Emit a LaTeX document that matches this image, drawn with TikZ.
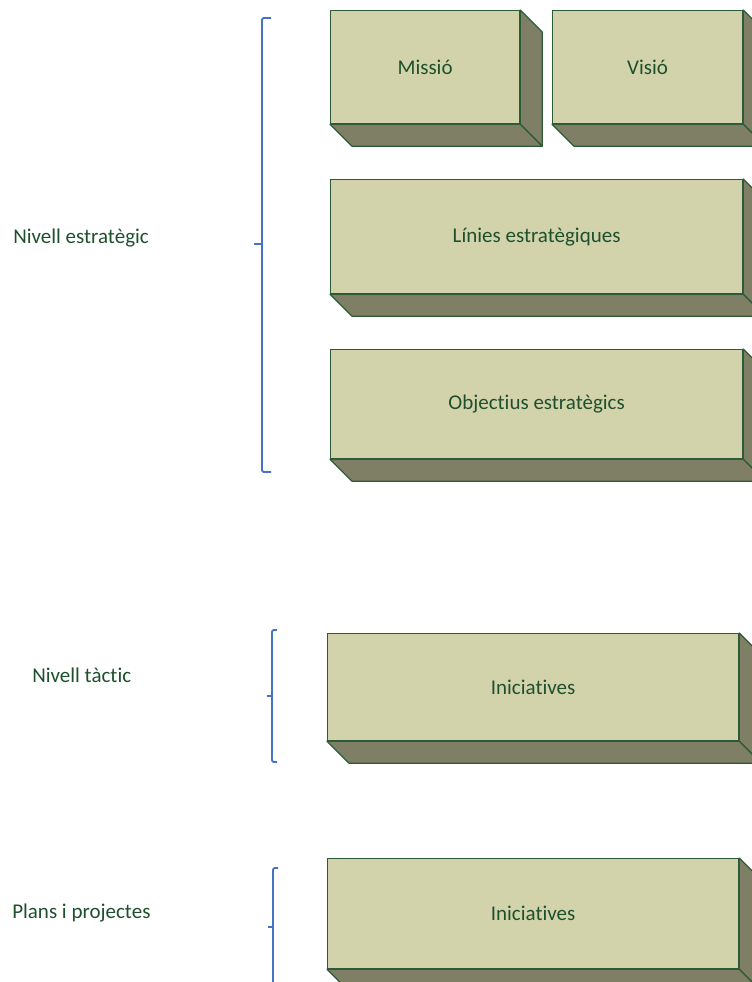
\documentclass[tikz,border=0pt]{standalone}
\usepackage{fontspec}
\setmainfont{Carlito}[Ligatures=CommonOff]
\definecolor{facefill}{RGB}{211,211,171}
\definecolor{sidefill}{RGB}{127,127,102}
\definecolor{edgegreen}{RGB}{45,90,55}
\definecolor{textgreen}{RGB}{30,80,45}
\definecolor{braceblue}{RGB}{68,114,196}
\begin{document}
\begin{tikzpicture}[x=0.75pt,y=-0.75pt,
  front/.style={draw=edgegreen, fill=facefill, line width=0.9pt, anchor=north west,
    inner sep=0pt, text=textgreen, font=\fontsize{15.75}{19}\selectfont},
  sideface/.style={draw=edgegreen, fill=sidefill, line width=0.9pt, line join=round},
  brace/.style={draw=braceblue, line width=1.4pt, rounded corners=1.5pt},
  label/.style={anchor=base west, inner sep=0pt, text=textgreen, font=\fontsize{15.75}{19}\selectfont}]
\useasboundingbox (0,0) rectangle (752,982);
\begin{scope}
\clip (0,0) rectangle (752,982);
% boxes: front faces
\node[front, minimum width=0.75*189pt, minimum height=0.75*113pt] (mis) at (330,10) {Missió};
\node[front, minimum width=0.75*190pt, minimum height=0.75*113pt] (vis) at (552,10) {Visió};
\node[front, minimum width=0.75*412pt, minimum height=0.75*114pt] (lin) at (330,179) {Línies estratègiques};
\node[front, minimum width=0.75*412pt, minimum height=0.75*109pt] (obj) at (330,349) {Objectius estratègics};
\node[front, minimum width=0.75*411pt, minimum height=0.75*107pt] (ini1) at (327,633) {Iniciatives};
\node[front, minimum width=0.75*411pt, minimum height=0.75*110pt] (ini2) at (327,858) {Iniciatives};
% side and bottom faces
\foreach \b in {mis,vis,lin,obj,ini1,ini2}{
  \path[sideface] (\b.north east) -- ++(22,22) -- ([shift={(22,22)}]\b.south east) -- (\b.south east) -- cycle;
  \path[sideface] (\b.south west) -- (\b.south east) -- ++(22,22) -- ([shift={(22,22)}]\b.south west) -- cycle;
}
% braces
\coordinate (b1t) at (262,18);
\coordinate (b1b) at (262,472);
\draw[brace] (271,18) -- (b1t) -- (b1b) -- (271,472);
\draw[brace] (262,244) -- (254,244);
\coordinate (b2t) at (272,630);
\coordinate (b2b) at (272,762);
\draw[brace] (277,630) -- (b2t) -- (b2b) -- (277,762);
\draw[brace] (272,696) -- (267,696);
\coordinate (b3t) at (273,868);
\draw[brace] (278,868) -- (b3t) -- (273,990);
\draw[brace] (273,927) -- (268,927);
\end{scope}
% labels
\node[label] (l1) at (13,243) {Nivell estratègic};
\node[label] (l2) at (32,682) {Nivell tàctic};
\node[label] (l3) at (12,918) {Plans i projectes};
\end{tikzpicture}
\end{document}
